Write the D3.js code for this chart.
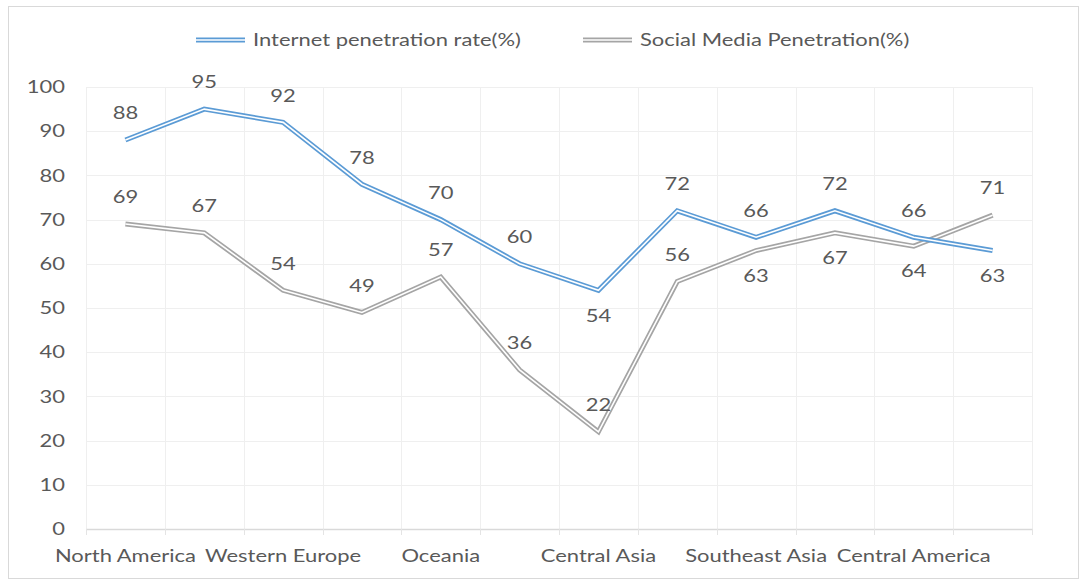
<!DOCTYPE html>
<html>
<head>
<meta charset="utf-8">
<script src="https://cdn.jsdelivr.net/npm/d3@7"></script>
<style>
  html, body { margin: 0; padding: 0; background: #fff; }
  svg { display: block; }
  text { font-family: Lato, "Open Sans", sans-serif; fill: #595959; }
</style>
</head>
<body>
<svg id="chart" width="1085" height="583"></svg>
<script>
const categories = ["North America", "Northern Europe", "Western Europe", "Eastern Europe",
  "Oceania", "Western Asia", "Central Asia", "East Asia", "Southeast Asia",
  "South America", "Central America", "Southern Europe"];
const shownLabels = ["North America", "Western Europe", "Oceania", "Central Asia",
  "Southeast Asia", "Central America"];
const internetRate = [88, 95, 92, 78, 70, 60, 54, 72, 66, 72, 66, 63];
const socialRate = [69, 67, 54, 49, 57, 36, 22, 56, 63, 67, 64, 71];
const yTicks = [0, 10, 20, 30, 40, 50, 60, 70, 80, 90, 100];
const seriesNames = ["Internet penetration rate(%)", "Social Media Penetration(%)"];
// label placement: 1 = above, -1 = below
const internetLabelPos = [1, 1, 1, 1, 1, 1, -1, 1, 1, 1, 1, -1];
const socialLabelPos = [1, 1, 1, 1, 1, 1, 1, 1, -1, -1, -1, 1];

const colors = ["#5B9BD5", "#A5A5A5"];
const SX = 1.22; // horizontal text stretch, as in the reference rendering
const svg = d3.select("#chart");

// chart border
svg.append("rect").attr("x", 8.5).attr("y", 6.5).attr("width", 1070).attr("height", 572)
  .attr("fill", "#fff").attr("stroke", "#D9D9D9").attr("stroke-width", 1);

const pLeft = 86, pRight = 1032, pTop = 87, pBottom = 529;
const x = d3.scaleBand().domain(categories).range([pLeft, pRight]).padding(0);
const y = d3.scaleLinear().domain([0, 100]).range([pBottom, pTop]);

const g = svg.append("g");

// horizontal gridlines
g.selectAll(".hgrid").data(yTicks.filter(d => d > 0)).join("line")
  .attr("x1", pLeft).attr("x2", pRight)
  .attr("y1", d => Math.round(y(d)) + 0.5).attr("y2", d => Math.round(y(d)) + 0.5)
  .attr("stroke", "#EFEFEF").attr("stroke-width", 1);

// vertical gridlines at category boundaries
const bounds = categories.map(c => x(c)).concat([pRight]);
g.selectAll(".vgrid").data(bounds).join("line")
  .attr("x1", d => Math.round(d) + 0.5).attr("x2", d => Math.round(d) + 0.5)
  .attr("y1", pTop).attr("y2", pBottom)
  .attr("stroke", "#EFEFEF").attr("stroke-width", 1);

// x axis
const xAxis = d3.axisBottom(x).tickSize(0).tickFormat(d => shownLabels.includes(d) ? d : "");
const xa = g.append("g").attr("transform", `translate(0,${pBottom})`).call(xAxis);
xa.select(".domain").attr("stroke", "#D9D9D9").attr("stroke-width", 1.5);
xa.selectAll("text").attr("font-size", 18).attr("dy", 0).attr("y", 33)
  .attr("x", 0).attr("transform", `scale(${SX},1)`)
  .style("font-family", "Lato, 'Open Sans', sans-serif").attr("fill", "#595959");
// tick marks at boundaries
g.selectAll(".xtick").data(bounds).join("line")
  .attr("x1", d => Math.round(d) + 0.5).attr("x2", d => Math.round(d) + 0.5)
  .attr("y1", pBottom).attr("y2", pBottom + 6)
  .attr("stroke", "#E4E4E4").attr("stroke-width", 1);

// y axis labels
const yAxis = d3.axisLeft(y).tickValues(yTicks).tickSize(0).tickPadding(21);
const ya = g.append("g").attr("transform", `translate(${pLeft},0)`).call(yAxis);
ya.select(".domain").remove();
ya.selectAll("text").attr("font-size", 18)
  .attr("x", -21 / SX).attr("transform", `scale(${SX},1)`)
  .style("font-family", "Lato, 'Open Sans', sans-serif").attr("fill", "#595959");

const line = d3.line().x((d, i) => x(categories[i]) + x.bandwidth() / 2).y(d => y(d));

const seriesData = [internetRate, socialRate];
const labelPos = [internetLabelPos, socialLabelPos];

// draw social first (beneath), then internet
[1, 0].forEach(si => {
  const data = seriesData[si];
  g.append("path").datum(data).attr("d", line)
    .attr("fill", "none").attr("stroke", colors[si]).attr("stroke-width", 5)
    .attr("stroke-linejoin", "miter");
  g.append("path").datum(data).attr("d", line)
    .attr("fill", "none").attr("stroke", "#fff").attr("stroke-width", 1.6)
    .attr("stroke-linejoin", "miter");
});

// data labels
[0, 1].forEach(si => {
  const data = seriesData[si];
  g.selectAll(".lbl" + si).data(data).join("text")
    .attr("class", "lbl" + si)
    .attr("x", (d, i) => (x(categories[i]) + x.bandwidth() / 2) / SX)
    .attr("y", (d, i) => y(d) + (labelPos[si][i] > 0 ? -27 : 25))
    .attr("transform", `scale(${SX},1)`)
    .attr("dy", "0.35em")
    .attr("text-anchor", "middle")
    .attr("font-size", 18)
    .text(d => d);
});

// legend
const legend = svg.append("g");
const legX = [196, 583];
seriesNames.forEach((name, i) => {
  const lg = legend.append("g").attr("transform", `translate(${legX[i]},40)`);
  lg.append("line").attr("x1", 0).attr("x2", 49).attr("y1", 0).attr("y2", 0)
    .attr("stroke", colors[i]).attr("stroke-width", 5);
  lg.append("line").attr("x1", 0).attr("x2", 49).attr("y1", 0).attr("y2", 0)
    .attr("stroke", "#fff").attr("stroke-width", 1.6);
  lg.append("text").attr("x", 57 / SX).attr("y", 0).attr("dy", "0.35em")
    .attr("transform", `scale(${SX},1)`)
    .attr("font-size", 18).text(name);
});
</script>
</body>
</html>
